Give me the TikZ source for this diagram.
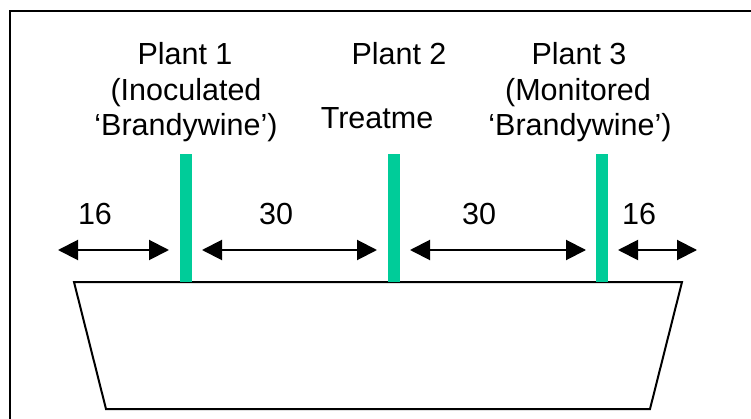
\documentclass[tikz,border=0pt]{standalone}
\usepackage{fontspec}
\setmainfont{Liberation Sans}
\usetikzlibrary{arrows.meta}
\definecolor{plantgreen}{RGB}{0,204,153}
\tikzset{
  lbl/.style={inner sep=0pt, anchor=base, font=\fontsize{30.5}{35}\selectfont},
  plantbar/.style={fill=plantgreen, draw=none, inner sep=0pt, minimum width=12pt, minimum height=128pt, anchor=south},
  dimarrow/.style={line width=2pt, {Triangle[length=20pt,width=20pt]}-{Triangle[length=20pt,width=20pt]}},
  frame/.style={line width=2pt},
  pot/.style={line width=2pt, line join=miter}
}
\begin{document}
\begin{tikzpicture}[x=1pt,y=-1pt]
\clip (0,0) rectangle (751,419);
\fill[white] (0,0) rectangle (751,419);
\draw[frame] (10,11) rectangle (800,480);
% pot
\draw[pot] (74,282) coordinate (potTL) -- (682,282) coordinate (potTR)
  -- (650,409) coordinate (potBR) -- (106,409) coordinate (potBL) -- cycle;
% plants
\node[plantbar] (bar1) at (186,282) {};
\node[plantbar] (bar2) at (394,282) {};
\node[plantbar] (bar3) at (602,282) {};
% labels
\node[lbl] (p1a) at (185,65) {Plant 1};
\node[lbl] (p1b) at (186,101) {(Inoculated};
\node[lbl] (p1c) at (186,136) {‘Brandywine’)};
\node[lbl] (p2a) at (399,65) {Plant 2};
\node[lbl] (p2b) at (377,129) {Treatme};
\node[lbl] (p3a) at (579,65) {Plant 3};
\node[lbl] (p3b) at (578,101) {(Monitored};
\node[lbl] (p3c) at (580,136) {‘Brandywine’)};
% dimensions
\node[lbl] (d1) at (95,225) {16};
\node[lbl] (d2) at (276,225) {30};
\node[lbl] (d3) at (479,225) {30};
\node[lbl] (d4) at (639,225) {16};
\coordinate (a1l) at (58,250);  \coordinate (a1r) at (169,250);
\coordinate (a2l) at (202,250); \coordinate (a2r) at (377,250);
\coordinate (a3l) at (410,250); \coordinate (a3r) at (586,250);
\coordinate (a4l) at (618,250); \coordinate (a4r) at (697,250);
\draw[dimarrow] (a1l) -- (a1r);
\draw[dimarrow] (a2l) -- (a2r);
\draw[dimarrow] (a3l) -- (a3r);
\draw[dimarrow] (a4l) -- (a4r);
\end{tikzpicture}
\end{document}
